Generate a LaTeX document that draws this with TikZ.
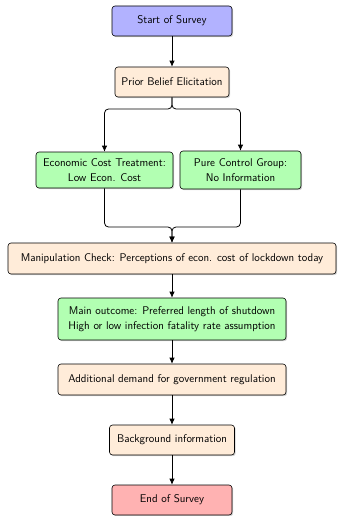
\documentclass[tikz,border=0pt]{standalone}
\usetikzlibrary{arrows.meta,shadows}
\begin{document}
\begin{tikzpicture}[x=1pt,y=-1pt,
  box/.style={draw=black, semithick, rounded corners=3pt, inner sep=0pt, align=center,
    font=\sffamily\fontsize{11.2}{14.5}\selectfont,
    drop shadow={shadow xshift=1.2pt, shadow yshift=-1.2pt, opacity=0.35}},
  startbox/.style={box, fill=blue!30},
  stepbox/.style={box, fill=orange!15},
  treatbox/.style={box, fill=green!30},
  endbox/.style={box, fill=red!30},
  conn/.style={draw=black, thick, -{Latex[length=6pt,width=5.5pt]}},
  link/.style={draw=black, thick, rounded corners=4pt}]
\useasboundingbox (0,0) rectangle (337,516);
\node[startbox, minimum width=120pt, minimum height=30pt] (start) at (172,21) {Start of Survey};
\node[stepbox, minimum width=114pt, minimum height=30pt] (prior) at (172,82) {Prior Belief Elicitation};
\node[treatbox, minimum width=137pt, minimum height=36pt] (econ) at (104.5,170) {Economic Cost Treatment:\\Low Econ. Cost};
\node[treatbox, minimum width=121pt, minimum height=38pt] (pure) at (240.5,170) {Pure Control Group:\\No Information};
\node[stepbox, minimum width=328pt, minimum height=31pt] (manip) at (172,258.5) {Manipulation Check: Perceptions of econ. cost of lockdown today};
\node[treatbox, minimum width=228pt, minimum height=42pt] (main) at (172,319) {Main outcome: Preferred length of shutdown\\High or low infection fatality rate assumption};
\node[stepbox, minimum width=228pt, minimum height=31pt] (addl) at (172,379.5) {Additional demand for government regulation};
\node[stepbox, minimum width=125pt, minimum height=30pt] (back) at (172,440) {Background information};
\node[endbox, minimum width=120pt, minimum height=30pt] (end) at (172,500) {End of Survey};

\coordinate (split) at (172,109);
\coordinate (merge) at (172,227);

\draw[link, -{Latex[length=6pt,width=5.5pt]}] (prior.south) -- (split) -| (econ.north);
\draw[link, -{Latex[length=6pt,width=5.5pt]}] (prior.south) -- (split) -| (pure.north);
\draw[link, -{Latex[length=6pt,width=5.5pt]}] (econ.south) |- (merge) -- (manip.north);
\draw[link, -{Latex[length=6pt,width=5.5pt]}] (pure.south) |- (merge) -- (manip.north);
\draw[conn] (start) -- (prior);
\draw[conn] (manip) -- (main);
\draw[conn] (main) -- (addl);
\draw[conn] (addl) -- (back);
\draw[conn] (back) -- (end);
\end{tikzpicture}
\end{document}
